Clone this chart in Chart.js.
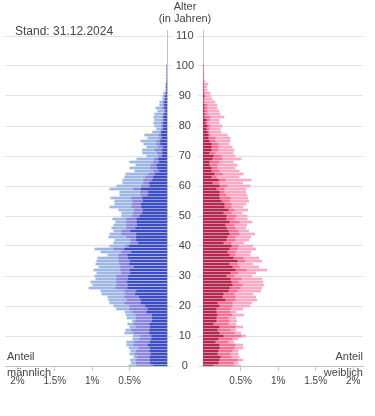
<!DOCTYPE html>
<html>
<head>
<meta charset="utf-8">
<script src="https://cdn.jsdelivr.net/npm/chart.js@4/dist/chart.umd.min.js"></script>
<style>
  html, body { margin: 0; padding: 0; background: #ffffff; }
  body { width: 375px; height: 416px; position: relative; overflow: hidden; font-family: "Liberation Sans", Arial, sans-serif; }
  canvas { position: absolute; top: 0; }
  .t { position: absolute; white-space: nowrap; color: #444; font-size: 11px; line-height: 13px; }
</style>
</head>
<body>
<canvas id="cm" width="185" height="416" style="left:0px"></canvas>
<canvas id="cf" width="225" height="416" style="left:150px"></canvas>
<div class="t" style="left:0;width:370px;top:0;text-align:center;">Alter</div>
<div class="t" style="left:0;width:370px;top:12px;text-align:center;">(in Jahren)</div>
<div class="t" style="left:15px;top:24px;font-size:12px;line-height:14px;">Stand: 31.12.2024</div>
<div class="t" style="left:7px;top:350px;">Anteil</div>
<div class="t" style="left:7px;top:366px;">männlich</div>
<div class="t" style="right:12px;top:350px;text-align:right;">Anteil</div>
<div class="t" style="right:12px;top:366px;text-align:right;">weiblich</div>
<script>
// Ages (years)
const ages = [0,1,2,3,4,5,6,7,8,9,10,11,12,13,14,15,16,17,18,19,20,21,22,23,24,25,26,27,28,29,30,31,32,33,34,35,36,37,38,39,40,41,42,43,44,45,46,47,48,49,50,51,52,53,54,55,56,57,58,59,60,61,62,63,64,65,66,67,68,69,70,71,72,73,74,75,76,77,78,79,80,81,82,83,84,85,86,87,88,89,90,91,92,93,94,95,96,97,98,99,100];

// Männlich, share in % (three stacked groups, from the axis outward)
const male1 = [0.178,0.218,0.222,0.227,0.209,0.227,0.222,0.253,0.222,0.204,0.204,0.231,0.227,0.222,0.227,0.196,0.191,0.196,0.267,0.253,0.284,0.347,0.342,0.369,0.422,0.404,0.524,0.516,0.529,0.516,0.511,0.484,0.493,0.440,0.498,0.489,0.516,0.524,0.471,0.564,0.502,0.378,0.404,0.409,0.404,0.484,0.418,0.396,0.400,0.400,0.360,0.329,0.316,0.338,0.342,0.316,0.324,0.253,0.244,0.342,0.227,0.231,0.191,0.178,0.151,0.098,0.124,0.133,0.098,0.111,0.058,0.058,0.058,0.044,0.084,0.084,0.058,0.071,0.071,0.044,0.044,0.044,0.031,0.044,0.031,0.018,0.031,0.031,0.031,0.018,0.018,0.009,0.004,0.004,0.004,0,0,0,0,0,0];
const male2 = [0.227,0.191,0.182,0.169,0.213,0.178,0.151,0.191,0.209,0.160,0.147,0.209,0.244,0.182,0.218,0.222,0.213,0.222,0.187,0.244,0.213,0.218,0.187,0.196,0.129,0.160,0.160,0.156,0.142,0.156,0.160,0.120,0.124,0.178,0.133,0.151,0.129,0.120,0.133,0.147,0.049,0.107,0.080,0.129,0.200,0.120,0.120,0.142,0.138,0.138,0.098,0.116,0.116,0.133,0.116,0.142,0.147,0.098,0.107,0.102,0.111,0.080,0.120,0.107,0.093,0.080,0.093,0.084,0.080,0.053,0.053,0.067,0.098,0.067,0.053,0.053,0.040,0.040,0.013,0.027,0.027,0.027,0.027,0.013,0.013,0.013,0.027,0.013,0.013,0.013,0.013,0.009,0.004,0.004,0.004,0,0,0,0,0,0];
const male3 = [0.107,0.067,0.084,0.049,0.076,0.080,0.133,0.093,0.107,0.093,0.102,0.124,0.080,0.093,0.080,0.044,0.129,0.129,0.107,0.178,0.213,0.200,0.249,0.227,0.320,0.320,0.360,0.320,0.347,0.280,0.293,0.333,0.360,0.293,0.320,0.298,0.280,0.147,0.280,0.253,0.213,0.227,0.213,0.240,0.160,0.107,0.200,0.173,0.147,0.187,0.147,0.160,0.213,0.293,0.240,0.240,0.280,0.280,0.280,0.320,0.333,0.280,0.280,0.280,0.307,0.253,0.280,0.200,0.320,0.240,0.160,0.200,0.173,0.160,0.173,0.213,0.160,0.187,0.107,0.067,0.093,0.107,0.107,0.120,0.120,0.093,0.093,0.053,0.053,0.027,0.027,0.027,0.009,0.009,0.009,0.004,0,0,0,0,0];

// Weiblich, share in % (three stacked groups, from the axis outward)
const female1 = [0.133,0.200,0.213,0.227,0.187,0.200,0.213,0.213,0.160,0.200,0.267,0.213,0.187,0.213,0.133,0.173,0.173,0.187,0.173,0.173,0.213,0.187,0.293,0.253,0.267,0.333,0.347,0.387,0.373,0.360,0.307,0.360,0.427,0.387,0.347,0.453,0.400,0.347,0.320,0.347,0.373,0.267,0.307,0.320,0.347,0.333,0.307,0.293,0.347,0.307,0.307,0.267,0.333,0.280,0.280,0.240,0.213,0.213,0.213,0.173,0.213,0.120,0.200,0.107,0.147,0.107,0.107,0.080,0.080,0.120,0.133,0.080,0.107,0.107,0.107,0.080,0.067,0.067,0.053,0.040,0.053,0.027,0.040,0.013,0.013,0.013,0.013,0.013,0.004,0.004,0.013,0.004,0.004,0.004,0.004,0,0,0,0,0,0];
const female2 = [0.280,0.204,0.240,0.147,0.173,0.187,0.204,0.213,0.173,0.187,0.240,0.200,0.173,0.213,0.200,0.173,0.160,0.196,0.187,0.187,0.173,0.200,0.133,0.173,0.147,0.120,0.147,0.133,0.093,0.147,0.107,0.107,0.147,0.093,0.107,0.102,0.133,0.080,0.107,0.107,0.093,0.107,0.120,0.107,0.133,0.133,0.120,0.120,0.133,0.107,0.133,0.107,0.080,0.093,0.093,0.107,0.147,0.093,0.067,0.107,0.107,0.093,0.093,0.067,0.107,0.107,0.080,0.107,0.133,0.133,0.107,0.080,0.093,0.093,0.093,0.080,0.093,0.027,0.027,0.040,0.040,0.027,0.040,0.080,0.040,0.040,0.040,0.040,0.009,0.009,0.013,0.009,0.004,0.004,0.004,0.004,0,0,0,0,0];
const female3 = [0.089,0.062,0.076,0.107,0.107,0.080,0.116,0.102,0.076,0.076,0.062,0.089,0.076,0.102,0.102,0.102,0.102,0.156,0.080,0.169,0.236,0.260,0.289,0.276,0.253,0.316,0.289,0.289,0.329,0.276,0.236,0.236,0.276,0.262,0.209,0.227,0.209,0.200,0.209,0.249,0.196,0.169,0.182,0.209,0.209,0.142,0.142,0.169,0.169,0.173,0.147,0.147,0.182,0.160,0.200,0.262,0.236,0.280,0.289,0.293,0.307,0.316,0.347,0.307,0.280,0.267,0.240,0.267,0.187,0.253,0.187,0.240,0.213,0.187,0.147,0.200,0.200,0.227,0.160,0.147,0.160,0.160,0.133,0.187,0.173,0.160,0.133,0.133,0.147,0.107,0.080,0.080,0.044,0.044,0.058,0.022,0.013,0.013,0.009,0.004,0.004];

// Tick values
const xTickValues = [0.5, 1, 1.5, 2];
const yTickValues = [0, 10, 20, 30, 40, 50, 60, 70, 80, 90, 100, 110];

const maleColors = ['#3d4fc0', '#8b87dc', '#9fb8e3'];
const femaleColors = ['#b32a50', '#f27398', '#f9aac4'];

function ds(values, color) {
  return {
    data: ages.map((a, i) => ({ x: values[i], y: a })),
    backgroundColor: color,
    borderWidth: 0,
    barThickness: 2
  };
}

function makeOptions(isLeft) {
  return {
    indexAxis: 'y',
    responsive: false,
    animation: false,
    events: [],
    layout: { padding: isLeft ? { left: 5, top: 30, right: 0, bottom: 0 } : { left: 0, top: 30, right: 12, bottom: 0 } },
    plugins: { legend: { display: false }, tooltip: { enabled: false } },
    scales: {
      x: {
        type: 'linear',
        min: 0,
        max: isLeft ? 2.166 : 2.13,
        reverse: isLeft,
        stacked: true,
        position: 'bottom',
        border: { color: '#c4c4c4', width: 1 },
        grid: { drawOnChartArea: false, drawTicks: true, tickLength: 5, color: '#c4c4c4' },
        afterBuildTicks: s => { s.ticks = xTickValues.map(v => ({ value: v })); },
        ticks: {
          callback: v => v + '%',
          font: { size: 10, family: '"Liberation Sans", Arial, sans-serif' },
          color: '#444',
          padding: 4,
          maxRotation: 0,
          autoSkip: false
        },
        afterFit: s => { s.height = 50; }
      },
      y: {
        type: 'linear',
        min: 0,
        max: 112,
        offset: false,
        stacked: true,
        position: isLeft ? 'right' : 'left',
        border: { color: '#c4c4c4', width: 1 },
        grid: { color: '#e2e2e2', tickLength: 5, drawTicks: true, offset: false },
        afterBuildTicks: s => { s.ticks = yTickValues.map(v => ({ value: v })); },
        ticks: {
          display: !isLeft,
          crossAlign: 'center',
          padding: 4,
          font: { size: 11, family: '"Liberation Sans", Arial, sans-serif' },
          color: '#444'
        },
        afterFit: s => { s.width = isLeft ? 18 : 53; }
      }
    }
  };
}

new Chart(document.getElementById('cm'), {
  type: 'bar',
  data: { datasets: [ds(male1, maleColors[0]), ds(male2, maleColors[1]), ds(male3, maleColors[2])] },
  options: makeOptions(true)
});

new Chart(document.getElementById('cf'), {
  type: 'bar',
  data: { datasets: [ds(female1, femaleColors[0]), ds(female2, femaleColors[1]), ds(female3, femaleColors[2])] },
  options: makeOptions(false)
});
</script>
</body>
</html>
